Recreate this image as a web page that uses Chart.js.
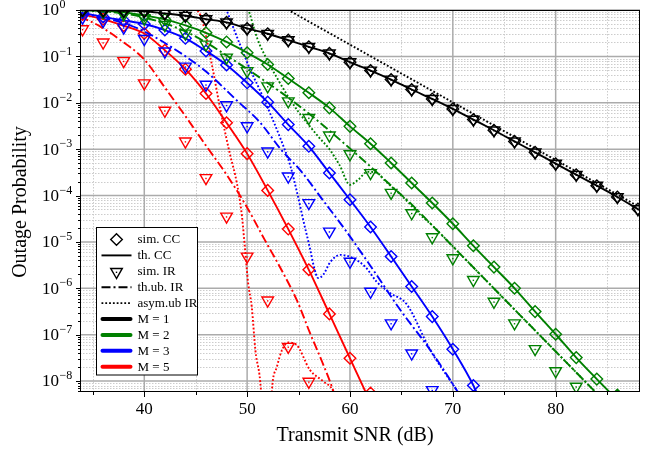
<!DOCTYPE html>
<html>
<head>
<meta charset="utf-8">
<script src="https://cdn.jsdelivr.net/npm/chart.js@4.4.1/dist/chart.umd.min.js"></script>
<style>
  html, body { margin: 0; padding: 0; background: #fff; }
</style>
</head>
<body>
<canvas id="outageChart" width="662" height="449"></canvas>
<script>
    // axis ranges and ticks
    const xRange = [33.75, 88.2];
    const yRange = [5.8e-9, 1];
    const xMajorTicks = [40, 50, 60, 70, 80];
    const xMinorTicks = [35, 45, 55, 65, 75, 85];
    const yTickExponents = [0, -1, -2, -3, -4, -5, -6, -7, -8];

    // simulated points (every 2 dB)
    const simSnr = [34, 36, 38, 40, 42, 44, 46, 48, 50, 52, 54, 56, 58, 60, 62, 64, 66, 68, 70, 72, 74, 76, 78, 80, 82, 84, 86, 88];

    const simCcM1 = [0.99, 0.98, 0.96, 0.94, 0.845, 0.753, 0.636, 0.54, 0.40, 0.308, 0.224, 0.161, 0.116, 0.075, 0.0496, 0.0317, 0.0193, 0.0121, 7.38e-3, 4.34e-3, 2.55e-3, 1.47e-3, 8.53e-4, 4.86e-4, 2.81e-4, 1.63e-4, 9.29e-5, 5.1e-5];
    const simIrM1 = [0.99, 0.98, 0.96, 0.94, 0.845, 0.753, 0.636, 0.54, 0.40, 0.308, 0.224, 0.161, 0.116, 0.075, 0.0496, 0.0317, 0.0193, 0.0121, 7.38e-3, 4.34e-3, 2.55e-3, 1.47e-3, 8.53e-4, 4.86e-4, 2.81e-4, 1.63e-4, 9.29e-5, 5.1e-5];

    const simCcM2 = [0.99, 0.956, 0.888, 0.764, 0.627, 0.465, 0.323, 0.205, 0.120, 0.0668, 0.0333, 0.0164, 7.76e-3, 3.1e-3, 1.31e-3, 5.03e-4, 1.86e-4, 6.89e-5, 2.46e-5, 8.24e-6, 2.86e-6, 1.0e-6, 3.14e-7, 1.02e-7, 3.2e-8, 1.1e-8, 5e-9, null];
    const simIrM2 = [0.98, 0.91, 0.80, 0.66, 0.477, 0.312, 0.181, 0.0946, 0.0484, 0.0227, 0.0108, 4.72e-3, 1.98e-3, 7.8e-4, 3.06e-4, 1.15e-4, 4.19e-5, 1.27e-5, 4.47e-6, 1.52e-6, 5.16e-7, 1.76e-7, 4.91e-8, 1.64e-8, 7.6e-9, null, null, null];

    const simCcM3 = [0.875, 0.71, 0.596, 0.5, 0.37, 0.245, 0.131, 0.0652, 0.0269, 0.0103, 3.38e-3, 1.15e-3, 3.06e-4, 8.11e-5, 2.09e-5, 4.84e-6, 1.09e-6, 2.45e-7, 4.84e-8, 8e-9, null, null, null, null, null, null, null, null];
    const simIrM3 = [0.69, 0.58, 0.42, 0.238, 0.128, 0.0605, 0.0247, 8.9e-3, 3.14e-3, 8.96e-4, 2.59e-4, 6.89e-5, 1.68e-5, 3.77e-6, 8.5e-7, 1.76e-7, 3.96e-8, 6.4e-9, null, null, null, null, null, null, null, null, null, null];

    const simCcM5 = [0.80, 0.636, 0.458, 0.312, 0.136, 0.053, 0.0158, 3.7e-3, 8.0e-4, 1.29e-4, 1.89e-5, 2.5e-6, 2.8e-7, 3.09e-8, 5.5e-9, null, null, null, null, null, null, null, null, null, null, null, null, null];
    const simIrM5 = [0.386, 0.2, 0.0796, 0.0264, 6.79e-3, 1.47e-3, 2.39e-4, 3.54e-5, 4.84e-6, 5.48e-7, 5.5e-8, 9.7e-9, null, null, null, null, null, null, null, null, null, null, null, null, null, null, null, null];

    // theory curves, [snr, probability]
    const thCcM1 = [[33.75, 0.995], [36, 0.98], [38, 0.96], [40, 0.94], [42, 0.845], [44, 0.753], [46, 0.636], [48, 0.54], [50, 0.40], [52, 0.308], [54, 0.224], [56, 0.161], [58, 0.116], [60, 0.075], [62, 0.0496], [64, 0.0317], [66, 0.0193], [68, 0.0121], [70, 7.38e-3], [72, 4.34e-3], [74, 2.55e-3], [76, 1.47e-3], [78, 8.53e-4], [80, 4.86e-4], [82, 2.81e-4], [84, 1.63e-4], [86, 9.29e-5], [88.2, 4.8e-5]];
    const asymM1 = [[52, 1.78], [60, 0.179], [70, 0.0102], [80, 5.83e-4], [88.5, 5.1e-5]];

    const thCcM2 = [[33.75, 0.995], [36, 0.956], [38, 0.888], [40, 0.764], [42, 0.627], [44, 0.465], [46, 0.323], [48, 0.205], [50, 0.120], [52, 0.0668], [54, 0.0333], [56, 0.0164], [58, 7.76e-3], [60, 3.1e-3], [62, 1.31e-3], [64, 5.03e-4], [66, 1.86e-4], [68, 6.89e-5], [70, 2.46e-5], [72, 8.24e-6], [74, 2.86e-6], [76, 1.0e-6], [78, 3.14e-7], [80, 1.02e-7], [82, 3.2e-8], [84, 1.1e-8], [86, 3.9e-9]];
    const thUbM2 = [[33.75, 0.985], [36, 0.93], [38, 0.845], [40, 0.69], [42, 0.514], [44, 0.345], [46, 0.2], [48, 0.1046], [50, 0.0534], [52, 0.0266], [54, 0.0129], [56, 5.85e-3], [58, 2.51e-3], [60, 1.03e-3], [62, 4.19e-4], [64, 1.63e-4], [66, 6.43e-5], [68, 2.26e-5], [70, 8.0e-6], [72, 2.81e-6], [74, 9.9e-7], [76, 3.48e-7], [78, 1.23e-7], [80, 4.34e-8], [82, 1.53e-8], [84, 5.4e-9], [85, 3.2e-9]];
    const asymM2 = [[50.0, 1.3], [51, 0.24], [52, 0.0794], [53, 0.0316], [54, 0.0135], [55, 6.31e-3], [56, 3.31e-3], [57, 1.78e-3], [58, 1.0e-3], [59, 4.47e-4], [60, 1.7e-4], [60.8, 2.19e-4], [61.7, 3.24e-4], [62.6, 3.09e-4], [63.4, 2.09e-4], [64.4, 1.32e-4], [65.6, 7.41e-5], [66.6, 4.27e-5], [68, 2.26e-5], [70, 8.0e-6], [72, 2.81e-6], [74, 9.9e-7], [76, 3.48e-7], [78, 1.23e-7], [80, 4.34e-8], [82, 1.53e-8], [84, 5.4e-9], [85, 3.2e-9]];

    const thCcM3 = [[33.75, 0.89], [36, 0.71], [38, 0.596], [40, 0.5], [42, 0.37], [44, 0.245], [46, 0.131], [48, 0.0652], [50, 0.0269], [52, 0.0103], [54, 3.38e-3], [56, 1.15e-3], [58, 3.06e-4], [60, 8.11e-5], [62, 2.09e-5], [64, 4.84e-6], [66, 1.09e-6], [68, 2.45e-7], [70, 4.84e-8], [72, 8e-9], [73, 2.5e-9]];
    const thUbM3 = [[33.75, 0.86], [36, 0.68], [38, 0.52], [40, 0.345], [43, 0.141], [46, 0.0472], [49, 0.0112], [51.2, 3.89e-3], [53.3, 9.77e-4], [55.3, 3.24e-4], [57.2, 8.9e-5], [59.6, 1.74e-5], [62, 3.02e-6], [64.9, 3.39e-7], [67.8, 4.68e-8], [70.5, 5.75e-9], [71.5, 2.5e-9]];
    const asymM3 = [[47.8, 1.3], [49.3, 0.181], [50.3, 0.0521], [51.3, 0.0175], [52.2, 6.17e-3], [53.2, 1.78e-3], [54.2, 4.37e-4], [54.9, 1.05e-4], [55.5, 2.69e-5], [56.1, 7.41e-6], [56.5, 2.88e-6], [56.9, 1.66e-6], [57.4, 1.95e-6], [58.1, 3.72e-6], [59.1, 5.25e-6], [60.2, 4.57e-6], [61.5, 2.88e-6], [62.6, 1.38e-6], [63.9, 7.94e-7], [65.5, 4.57e-7], [67.8, 4.68e-8], [70.5, 5.75e-9], [71.5, 2.5e-9]];

    const thCcM5 = [[33.75, 0.82], [36, 0.636], [38, 0.458], [40, 0.312], [42, 0.136], [44, 0.053], [46, 0.0158], [48, 3.7e-3], [50, 8.0e-4], [52, 1.29e-4], [54, 1.89e-5], [56, 2.5e-6], [58, 2.8e-7], [60, 3.09e-8], [62, 3.4e-9]];
    const thUbM5 = [[33.75, 0.728], [35.7, 0.443], [37.6, 0.232], [40, 0.0857], [42, 0.0213], [44.1, 4.79e-3], [46, 1.19e-3], [48, 2.82e-4], [49.9, 6.03e-5], [51.7, 1.12e-5], [53.5, 2.14e-6], [54.9, 5.13e-7], [56.1, 1.10e-7], [57.3, 2.57e-8], [58.4, 5.89e-9], [59, 2e-9]];
    const asymM5 = [[45.0, 1.15], [45.6, 0.63], [46.6, 0.0617], [47.4, 7.08e-3], [48.3, 8.3e-4], [49.0, 1.86e-4], [49.5, 3.55e-5], [49.8, 6.76e-6], [50.1, 1.29e-6], [50.45, 3.98e-7], [50.8, 4.68e-8], [51.35, 5.9e-9], [51.7, 1e-10], [52.05, 1e-10], [52.4, 5.9e-9], [52.9, 2.04e-8], [53.4, 4.68e-8], [54.0, 6.76e-8], [54.8, 6.03e-8], [56.1, 1.74e-8], [57.4, 9.8e-9], [58.4, 5.9e-9], [59, 2e-9]];

    const legendLabels = ['sim. CC', 'th. CC', 'sim. IR', 'th.ub. IR', 'asym.ub IR', 'M = 1', 'M = 2', 'M = 3', 'M = 5'];

    const BLACK = '#000000', GREEN = '#008000', BLUE = '#0000ff', RED = '#ff0000';
    const DASH_DOT = [9, 3, 2, 3];
    const DOTTED = [1.8, 2];
    const LINE_W = 1.9;
    const SERIF = '"Liberation Serif", "Times New Roman", serif';

    function curve(pairs, color, dash) {
        return {
            data: pairs.map(p => ({ x: p[0], y: p[1] })),
            borderColor: color,
            borderWidth: LINE_W,
            borderDash: dash || [],
            pointRadius: 0,
            fill: false,
            cubicInterpolationMode: 'monotone',
            clip: 0
        };
    }

    function markers(values, color, style) {
        const tri = style === 'triangle';
        return {
            data: simSnr.map((x, i) => ({ x: x, y: values[i] })),
            showLine: false,
            borderColor: color,
            pointStyle: style,
            pointRotation: tri ? 180 : 0,
            pointRadius: tri ? 6.7 : 5.8,
            pointBorderWidth: 1.4,
            pointBorderColor: color,
            pointBackgroundColor: 'rgba(0,0,0,0)',
            pointHoverRadius: 0,
            clip: 0
        };
    }

    const datasets = [
        curve(thCcM1, BLACK), curve(asymM1, BLACK, DOTTED),
        markers(simCcM1, BLACK, 'rectRot'), markers(simIrM1, BLACK, 'triangle'),
        curve(thCcM2, GREEN), curve(thUbM2, GREEN, DASH_DOT), curve(asymM2, GREEN, DOTTED),
        markers(simCcM2, GREEN, 'rectRot'), markers(simIrM2, GREEN, 'triangle'),
        curve(thCcM3, BLUE), curve(thUbM3, BLUE, DASH_DOT), curve(asymM3, BLUE, DOTTED),
        markers(simCcM3, BLUE, 'rectRot'), markers(simIrM3, BLUE, 'triangle'),
        curve(thCcM5, RED), curve(thUbM5, RED, DASH_DOT), curve(asymM5, RED, DOTTED),
        markers(simCcM5, RED, 'rectRot'), markers(simIrM5, RED, 'triangle')
    ];

    function seg(ctx, x1, y1, x2, y2) {
        ctx.beginPath();
        ctx.moveTo(x1, y1);
        ctx.lineTo(x2, y2);
        ctx.stroke();
    }

    function diamond(ctx, x, y, r) {
        ctx.beginPath();
        ctx.moveTo(x, y - r); ctx.lineTo(x + r, y); ctx.lineTo(x, y + r); ctx.lineTo(x - r, y);
        ctx.closePath();
        ctx.stroke();
    }

    function triangleDown(ctx, x, y, r) {
        ctx.beginPath();
        ctx.moveTo(x, y + r);
        ctx.lineTo(x - 0.866 * r, y - 0.5 * r);
        ctx.lineTo(x + 0.866 * r, y - 0.5 * r);
        ctx.closePath();
        ctx.stroke();
        ctx.fillRect(x - 0.7, y - 0.2, 1.4, 1.4);
    }

    // minor y grid values (2..9 x 10^n)
    function minorLogValues() {
        const out = [];
        for (let e = -9; e <= -1; e++) {
            for (let k = 2; k <= 9; k++) {
                const v = k * Math.pow(10, e);
                if (v > yRange[0] && v < yRange[1]) out.push(v);
            }
        }
        return out;
    }

    const gridPlugin = {
        id: 'gridPlugin',
        beforeDatasetsDraw(chart) {
            const { ctx, chartArea: a, scales: { x, y } } = chart;
            ctx.save();
            ctx.lineWidth = 1;
            ctx.strokeStyle = '#cccccc';
            ctx.setLineDash([1.5, 1.5]);
            minorLogValues().forEach(v => {
                const py = Math.round(y.getPixelForValue(v)) + 0.5;
                seg(ctx, a.left, py, a.right, py);
            });
            xMinorTicks.forEach(v => {
                const px = Math.round(x.getPixelForValue(v)) + 0.5;
                seg(ctx, px, a.top, px, a.bottom);
            });
            ctx.setLineDash([]);
            ctx.strokeStyle = '#ababab';
            ctx.lineWidth = 1.5;
            yTickExponents.forEach(e => {
                const py = y.getPixelForValue(Math.pow(10, e));
                seg(ctx, a.left, py, a.right, py);
            });
            xMajorTicks.forEach(v => {
                const px = x.getPixelForValue(v);
                seg(ctx, px, a.top, px, a.bottom);
            });
            ctx.restore();
        }
    };

    const triangleDots = {
        id: 'triangleDots',
        afterDatasetsDraw(chart) {
            const { ctx, chartArea: a } = chart;
            ctx.save();
            ctx.beginPath();
            ctx.rect(a.left, a.top, a.right - a.left, a.bottom - a.top);
            ctx.clip();
            chart.data.datasets.forEach((ds, i) => {
                if (ds.pointStyle !== 'triangle') return;
                ctx.fillStyle = ds.pointBorderColor;
                chart.getDatasetMeta(i).data.forEach(pt => {
                    if (pt.skip || isNaN(pt.y)) return;
                    ctx.fillRect(pt.x - 0.7, pt.y - 0.2, 1.4, 1.4);
                });
            });
            ctx.restore();
        }
    };

    const axesPlugin = {
        id: 'axesPlugin',
        afterDatasetsDraw(chart) {
            const { ctx, chartArea: a, scales: { x, y } } = chart;
            ctx.save();
            // frame
            ctx.strokeStyle = '#000';
            ctx.lineWidth = 1;
            ctx.strokeRect(a.left + 0.5, a.top + 0.5, a.right - a.left - 1, a.bottom - a.top - 1);

            // ticks
            xMajorTicks.forEach(v => {
                const px = Math.round(x.getPixelForValue(v)) + 0.5;
                seg(ctx, px, a.bottom, px, a.bottom + 5);
            });
            xMinorTicks.forEach(v => {
                const px = Math.round(x.getPixelForValue(v)) + 0.5;
                seg(ctx, px, a.bottom, px, a.bottom + 3);
            });
            yTickExponents.forEach(e => {
                const py = Math.round(y.getPixelForValue(Math.pow(10, e))) + 0.5;
                seg(ctx, a.left - 4, py, a.left, py);
            });
            minorLogValues().forEach(v => {
                const py = Math.round(y.getPixelForValue(v)) + 0.5;
                seg(ctx, a.left - 2, py, a.left, py);
            });

            // tick labels
            ctx.fillStyle = '#000';
            ctx.font = '17px ' + SERIF;
            ctx.textAlign = 'center';
            ctx.textBaseline = 'middle';
            xMajorTicks.forEach(v => {
                ctx.fillText(String(v), x.getPixelForValue(v), a.bottom + 18);
            });
            ctx.textAlign = 'left';
            yTickExponents.forEach(e => {
                const py = y.getPixelForValue(Math.pow(10, e));
                ctx.font = '17px ' + SERIF;
                ctx.fillText('10', 42, py + 1);
                const w = ctx.measureText('10').width;
                ctx.font = '12px ' + SERIF;
                ctx.fillText(e === 0 ? '0' : '\u2212' + String(-e), 42 + w + 0.5, py - 5);
            });

            // axis titles
            ctx.font = '20px ' + SERIF;
            ctx.textAlign = 'center';
            ctx.fillText('Transmit SNR (dB)', 355, 436);
            ctx.translate(21, 202);
            ctx.rotate(-Math.PI / 2);
            ctx.fillText('Outage Probability', 0, 0);
            ctx.restore();

            // legend
            ctx.save();
            const bx = 96.5, by = 227.5, bw = 101, bh = 147.5;
            ctx.fillStyle = '#fff';
            ctx.fillRect(bx, by, bw, bh);
            ctx.strokeStyle = '#000';
            ctx.lineWidth = 1;
            ctx.strokeRect(bx, by, bw, bh);
            const lineColors = [BLACK, GREEN, BLUE, RED];
            legendLabels.forEach((label, i) => {
                const ry = 239.5 + i * 15.9;
                const x1 = 101.5, x2 = 131.5, xm = 116.5;
                ctx.strokeStyle = '#000';
                ctx.fillStyle = '#000';
                ctx.lineWidth = 1.4;
                ctx.setLineDash([]);
                ctx.lineCap = 'butt';
                if (i === 0) diamond(ctx, xm, ry, 5.8);
                else if (i === 1) { ctx.lineWidth = LINE_W; seg(ctx, x1, ry, x2, ry); }
                else if (i === 2) triangleDown(ctx, xm, ry + 0.5, 6.7);
                else if (i === 3) { ctx.lineWidth = LINE_W; ctx.setLineDash(DASH_DOT); seg(ctx, x1, ry, x2, ry); }
                else if (i === 4) { ctx.lineWidth = LINE_W; ctx.setLineDash(DOTTED); seg(ctx, x1, ry, x2, ry); }
                else {
                    ctx.strokeStyle = lineColors[i - 5];
                    ctx.lineWidth = 4;
                    ctx.lineCap = 'round';
                    seg(ctx, x1 + 1, ry, x2 - 1, ry);
                }
                ctx.setLineDash([]);
                ctx.fillStyle = '#000';
                ctx.font = '13px ' + SERIF;
                ctx.textAlign = 'left';
                ctx.textBaseline = 'middle';
                ctx.fillText(label, 137.5, ry + 0.5);
            });
            ctx.restore();
        }
    };

    const ctx1 = document.getElementById('outageChart').getContext('2d');

    const outageChart = new Chart(ctx1, {
        type: 'line',
        data: { datasets: datasets },
        options: {
            responsive: false,
            animation: false,
            events: [],
            layout: { padding: { left: 80, right: 22, top: 10, bottom: 57 } },
            scales: {
                x: { type: 'linear', min: xRange[0], max: xRange[1], display: false },
                y: { type: 'logarithmic', min: yRange[0], max: yRange[1], display: false }
            },
            plugins: {
                legend: { display: false },
                title: { display: false },
                tooltip: { enabled: false }
            }
        },
        plugins: [gridPlugin, triangleDots, axesPlugin]
    });
</script>
</body>
</html>
